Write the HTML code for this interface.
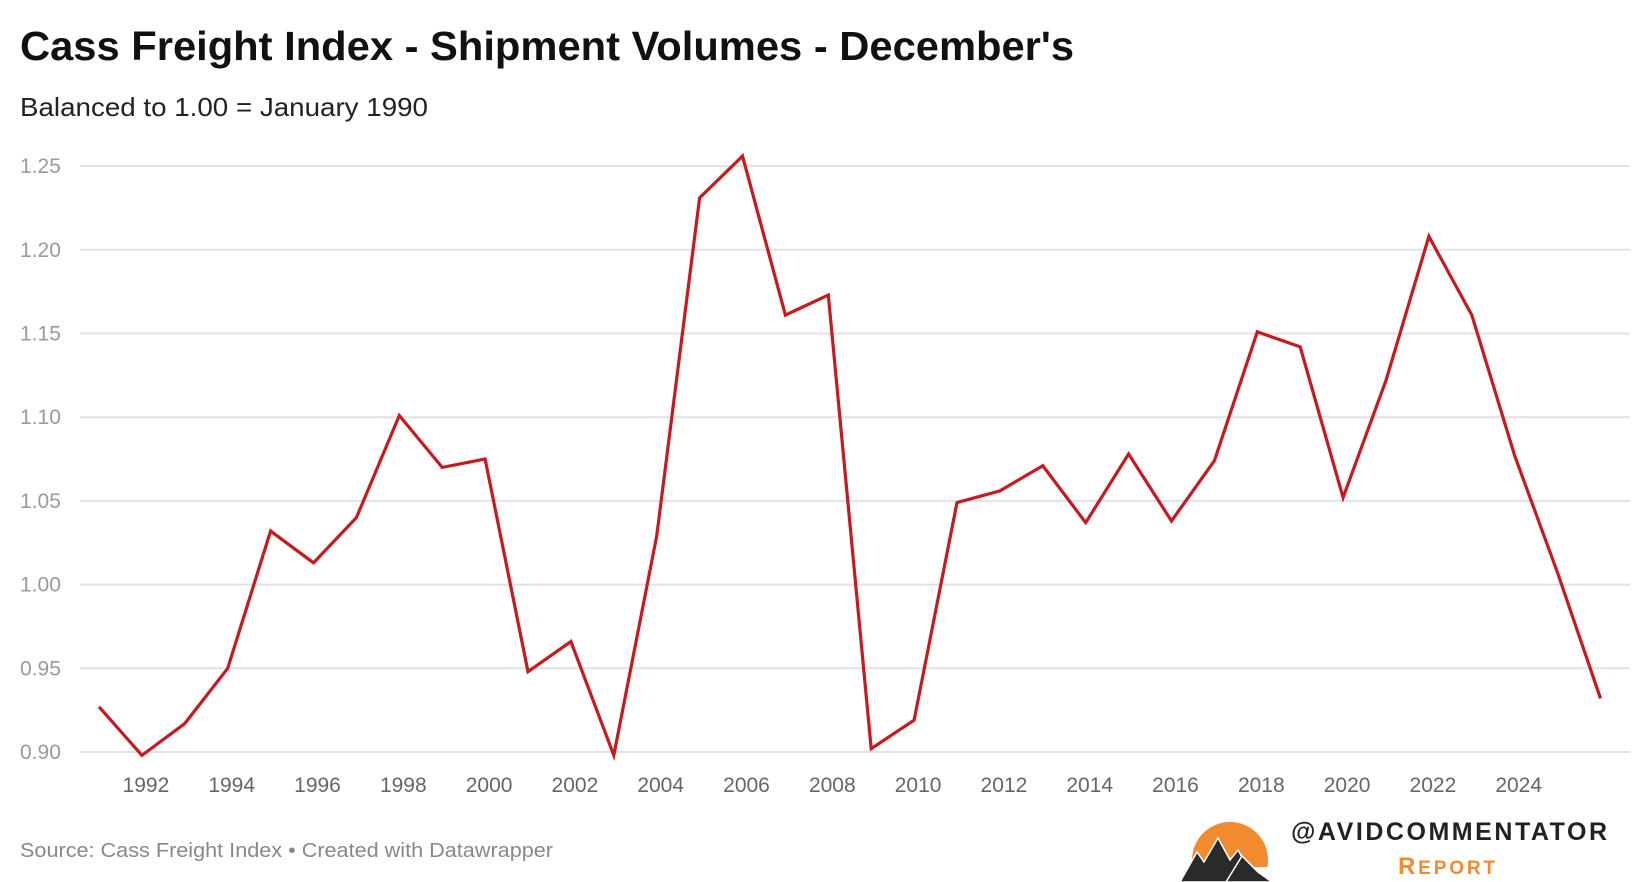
<!DOCTYPE html>
<html><head><meta charset="utf-8"><style>
body{margin:0;background:#fff;font-family:"Liberation Sans",sans-serif;}
#wrap{position:relative;width:1640px;height:882px;overflow:hidden;}
</style></head><body>
<div id="wrap">
<svg id="chart" width="1640" height="882"></svg>
</div>
<script>
const years=[1991,1992,1993,1994,1995,1996,1997,1998,1999,2000,2001,2002,2003,2004,2005,2006,2007,2008,2009,2010,2011,2012,2013,2014,2015,2016,2017,2018,2019,2020,2021,2022,2023,2024,2025,2026];
const values=[0.927,0.898,0.917,0.950,1.032,1.013,1.040,1.101,1.070,1.075,0.948,0.966,0.898,1.029,1.231,1.256,1.161,1.173,0.902,0.919,1.049,1.056,1.071,1.037,1.078,1.038,1.074,1.151,1.142,1.052,1.122,1.208,1.161,1.077,1.007,0.932];
const yTicks=[0.90,0.95,1.00,1.05,1.10,1.15,1.20,1.25];
const xTicks=[1992,1994,1996,1998,2000,2002,2004,2006,2008,2010,2012,2014,2016,2018,2020,2022,2024];

const NS="http://www.w3.org/2000/svg";
const svg=document.getElementById('chart');
const X=y=>99+(y-1991)*42.9;
const Y=v=>752-(v-0.90)/0.05*83.7;
function mk(t,a,txt){const e=document.createElementNS(NS,t);for(const k in a)e.setAttribute(k,a[k]);if(txt!==undefined)e.textContent=txt;svg.appendChild(e);return e;}

let e=mk('text',{x:20,y:60,'font-size':41,'font-weight':'bold',fill:'#111',textLength:1054,lengthAdjust:'spacingAndGlyphs'},"Cass Freight Index - Shipment Volumes - December's");


e=mk('text',{x:20,y:116,'font-size':26,fill:'#222',textLength:408,lengthAdjust:'spacingAndGlyphs'},"Balanced to 1.00 = January 1990");



yTicks.forEach(t=>{
 const g=mk('line',{x1:80,x2:1630,y1:Y(t),y2:Y(t),stroke:'#e2e2e2','stroke-width':2});
 
 
 const l=mk('text',{x:20,y:Y(t)+7,'font-size':21,fill:'#9a9a9a'},t.toFixed(2));
 
 
});
xTicks.forEach(t=>{
 const l=mk('text',{x:X(t)+4,y:792,'font-size':21,fill:'#666','text-anchor':'middle'},String(t));
 
 
});
const p=mk('polyline',{points:years.map((y,i)=>X(y)+','+Y(values[i])).join(' '),fill:'none',stroke:'#c8191e','stroke-width':3.2,'stroke-linejoin':'miter'});



e=mk('text',{x:20,y:857,'font-size':20,fill:'#888',textLength:533,lengthAdjust:'spacingAndGlyphs'},"Source: Cass Freight Index • Created with Datawrapper");



const lg=document.createElementNS(NS,'g');svg.appendChild(lg);


lg.innerHTML='<clipPath id="cp"><rect x="1184" y="815" width="100" height="52"/></clipPath>'+
'<circle cx="1230" cy="860" r="38" fill="#f28a30" clip-path="url(#cp)"/>'+
'<path d="M1180 882 L1197 852 L1204 862 L1218 838 L1230 860 L1238 850 L1256 882 Z" fill="#2a2a2a" stroke="#fff" stroke-width="1.5"/>'+
'<path d="M1226 882 L1242 856 L1258 872 L1272 882 Z" fill="#2a2a2a" stroke="#fff" stroke-width="1.5"/>'+
'<text x="1291" y="840" font-size="25" font-weight="bold" fill="#222" textLength="316" lengthAdjust="spacing">@AVIDCOMMENTATOR</text>'+
'<text x="1398" y="874" font-size="24" font-weight="bold" fill="#f28a30" textLength="97" lengthAdjust="spacing">R<tspan font-size="19">EPORT</tspan></text>';
</script>
</body></html>
